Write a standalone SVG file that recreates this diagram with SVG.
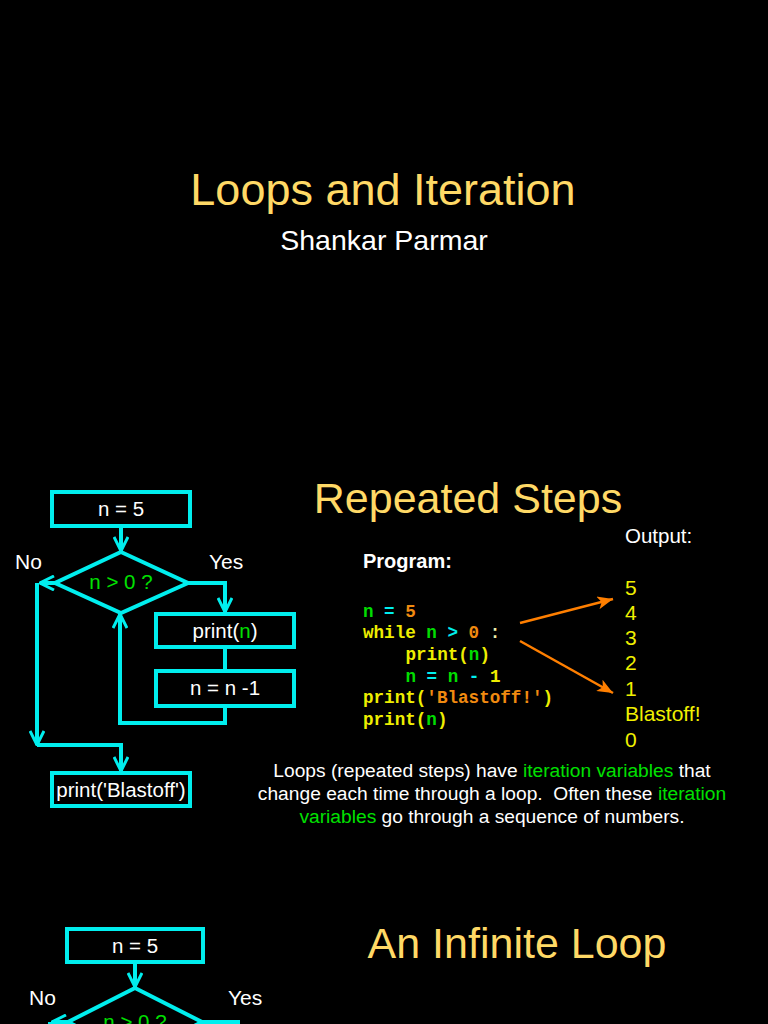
<svg xmlns="http://www.w3.org/2000/svg" width="768" height="1024" viewBox="0 0 768 1024">
<defs>
<marker id="cy" viewBox="0 0 16 16" refX="15" refY="8" markerWidth="16" markerHeight="16" markerUnits="userSpaceOnUse" orient="auto">
<path d="M1,1 L15,8 L1,15" fill="none" stroke="#00EEEE" stroke-width="3"/>
</marker>
<marker id="or" viewBox="0 0 12 10" refX="12" refY="5" markerWidth="16" markerHeight="13" markerUnits="userSpaceOnUse" orient="auto">
<path d="M0,0 L12,5 L0,10 L3,5 z" fill="#FF7F00"/>
</marker>
<style>
.box{fill:none;stroke:#00EEEE;stroke-width:4}
.con{fill:none;stroke:#00EEEE;stroke-width:4}
.arr{marker-end:url(#cy)}
.lbl{font-family:"Liberation Sans",Arial,sans-serif;font-size:20.5px;fill:#FFFFFF;text-anchor:middle}
.side{font-family:"Liberation Sans",Arial,sans-serif;font-size:21px;fill:#FFFFFF}
.grn{fill:#00E000}
.head{font-family:"Liberation Sans",Arial,sans-serif;font-size:43px;fill:#FFD966;text-anchor:middle}
.code{font-family:"Liberation Mono","Courier New",monospace;font-weight:bold;font-size:17.6px;white-space:pre}
.cy{fill:#00EEEE}.cg{fill:#00DD00}.co{fill:#F08A10}.cyl{fill:#EEEE00}
.out{font-family:"Liberation Sans",Arial,sans-serif;font-size:21px;fill:#F0F000}
.desc{font-family:"Liberation Sans",Arial,sans-serif;font-size:19.2px;fill:#FFFFFF;text-anchor:middle}
</style>
</defs>
<rect x="0" y="0" width="768" height="1024" fill="#000000"/>

<g id="title">
<text x="383" y="205" font-family="Liberation Sans, Arial, sans-serif" font-size="45" fill="#FFD966" text-anchor="middle">Loops and Iteration</text>
<text x="384" y="250" font-family="Liberation Sans, Arial, sans-serif" font-size="28.5" fill="#FFFFFF" text-anchor="middle">Shankar Parmar</text>
</g>

<g id="connectors">
<line class="con arr" x1="121" y1="528" x2="121" y2="551"/>
<polyline class="con arr" points="188,583 225,583 225,612"/>
<line class="con" x1="225" y1="648" x2="225" y2="670"/>
<polyline class="con arr" points="225,707 225,723 120,723 120,614"/>
<line class="con arr" x1="56" y1="583" x2="40" y2="583"/>
<polyline class="con arr" points="37,583 37,745"/>
<polyline class="con arr" points="37,745 121,745 121,771"/>
<line stroke="#FF7F00" stroke-width="2.5" x1="520" y1="623" x2="613" y2="599" marker-end="url(#or)"/>
<line stroke="#FF7F00" stroke-width="2.5" x1="520" y1="641" x2="613" y2="693" marker-end="url(#or)"/>
<line class="con arr" x1="135" y1="964" x2="135" y2="987"/>
<polyline class="con" points="202,1022 238,1022 238,1060"/>
<line class="con arr" x1="68" y1="1022" x2="52" y2="1022"/>
<line class="con" x1="50" y1="1022" x2="50" y2="1060"/>
</g>

<g id="n5">
<rect class="box" x="52" y="492" width="138" height="34"/>
<text class="lbl" x="121" y="516">n = 5</text>
</g>
<g id="cond">
<polygon class="box" points="121,552 188,583 121,613 55,583"/>
<text class="lbl grn" x="121" y="589" font-size="18.5">n &gt; 0 ?</text>
</g>
<text class="side" x="15" y="569">No</text>
<text class="side" x="209" y="569">Yes</text>
<g id="printn">
<rect class="box" x="156" y="614" width="138" height="33"/>
<text class="lbl" x="225" y="638">print(<tspan class="grn">n</tspan>)</text>
</g>
<g id="decr">
<rect class="box" x="156" y="671" width="138" height="35"/>
<text class="lbl" x="225" y="695">n = n -1</text>
</g>
<g id="blast">
<rect class="box" x="52" y="773" width="138" height="33"/>
<text class="lbl" x="121" y="797">print('Blastoff')</text>
</g>

<g id="repeated">
<text class="head" x="468" y="513">Repeated Steps</text>
<text x="363" y="568" font-family="Liberation Sans, Arial, sans-serif" font-size="20" font-weight="bold" fill="#FFFFFF">Program:</text>
<text x="625" y="543" font-family="Liberation Sans, Arial, sans-serif" font-size="20.5" fill="#FFFFFF">Output:</text>
<text class="code" x="363" y="617"><tspan class="cg">n</tspan><tspan class="cy"> = </tspan><tspan class="co">5</tspan></text>
<text class="code" x="363" y="638"><tspan class="cyl">while </tspan><tspan class="cg">n</tspan><tspan class="cy"> &gt; </tspan><tspan class="co">0</tspan><tspan fill="#EEEEAA"> :</tspan></text>
<text class="code" x="405.5" y="660"><tspan class="cyl">print(</tspan><tspan class="cg">n</tspan><tspan class="cyl">)</tspan></text>
<text class="code" x="405.5" y="682"><tspan class="cg">n</tspan><tspan class="cy"> = </tspan><tspan class="cg">n</tspan><tspan class="cy"> - </tspan><tspan class="cyl">1</tspan></text>
<text class="code" x="363" y="703"><tspan class="cyl">print(</tspan><tspan class="co">'Blastoff!'</tspan><tspan class="cyl">)</tspan></text>
<text class="code" x="363" y="725"><tspan class="cyl">print(</tspan><tspan class="cg">n</tspan><tspan class="cyl">)</tspan></text>
<text class="out" x="625" y="595">5</text>
<text class="out" x="625" y="620">4</text>
<text class="out" x="625" y="645">3</text>
<text class="out" x="625" y="670">2</text>
<text class="out" x="625" y="696">1</text>
<text class="out" x="625" y="721">Blastoff!</text>
<text class="out" x="625" y="747">0</text>
<text class="desc" x="492" y="777">Loops (repeated steps) have <tspan class="grn">iteration variables</tspan> that</text>
<text class="desc" x="492" y="800" xml:space="preserve">change each time through a loop.  Often these <tspan class="grn">iteration</tspan></text>
<text class="desc" x="492" y="823"><tspan class="grn">variables</tspan> go through a sequence of numbers.</text>
</g>

<g id="infinite">
<text class="head" x="517" y="958">An Infinite Loop</text>
</g>
<g id="n5b">
<rect class="box" x="67" y="929" width="136" height="33"/>
<text class="lbl" x="135" y="953">n = 5</text>
</g>
<g id="condb">
<polygon class="box" points="135,988 202,1022 135,1056 68,1022"/>
<text class="lbl grn" x="135" y="1029" font-size="18.5">n &gt; 0 ?</text>
</g>
<text class="side" x="29" y="1005">No</text>
<text class="side" x="228" y="1005">Yes</text>
</svg>
